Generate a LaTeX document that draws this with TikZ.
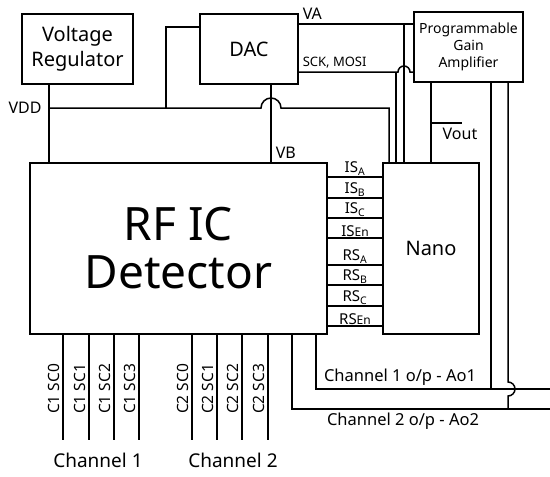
\documentclass[tikz,border=0pt]{standalone}
\usepackage{fontspec}
\setmainfont{Noto Sans}
\usetikzlibrary{calc}
\begin{document}
\begin{tikzpicture}[x=1pt,y=-1pt,line width=1.5pt,
  box/.style={draw,inner sep=0pt,align=center,line width=1.5pt},
  lbl/.style={inner sep=1pt,font=\fontsize{16}{18}\selectfont},
  sig/.style={anchor=south,inner sep=1pt,font=\fontsize{15}{16}\selectfont},
  pin/.style={rotate=90,inner sep=0pt,font=\fontsize{15.5}{17}\selectfont}]
\useasboundingbox (0,0) rectangle (550,477);
% boxes
\node[box,minimum width=111pt,minimum height=70pt,font=\fontsize{20}{25}\selectfont] (vr) at (77.5,49) {Voltage\\Regulator};
\node[box,minimum width=98pt,minimum height=70pt,font=\fontsize{20}{25}\selectfont] (dac) at (249,49) {DAC};
\node[box,minimum width=109pt,minimum height=70pt,font=\fontsize{14}{17}\selectfont] (pga) at (468.5,47) {Programmable\\Gain\\Amplifier};
\node[box,minimum width=297pt,minimum height=171pt,font=\fontsize{46}{48}\selectfont] (rf) at (178.5,248.5) {RF IC\\Detector};
\node[box,minimum width=96pt,minimum height=171pt,font=\fontsize{20}{24}\selectfont] (nano) at (431,248.5) {Nano};
% coordinates
\coordinate (vdd) at (49,108);
\coordinate (br) at (166,108);
\coordinate (dacp) at (200,27);
\coordinate (vb) at (271,108);
\coordinate (vddn) at (389,108);
\coordinate (va) at (298,24);
\coordinate (vav) at (404,24);
\coordinate (sck) at (298,72);
\coordinate (sckv) at (396,72);
\coordinate (vout) at (431,123);
\coordinate (voutt) at (462,123);
\coordinate (p1) at (491,82);
\coordinate (p2) at (508,82);
\coordinate (c1) at (316,389);
\coordinate (c2) at (292,409);
\coordinate (c1e) at (550,389);
\coordinate (c2e) at (550,409);
% VDD
\draw (vr.south -| vdd) -- (rf.north -| vdd);
\draw (vdd) -- ($(vb)+(-10,0)$) arc[start angle=180,end angle=360,radius=10] -- (vddn) -- (nano.north -| vddn);
\draw (br) |- (dacp);
\node[lbl] (vddl) at (25,108) {VDD};
% VB
\draw (dac.south -| vb) -- (rf.north -| vb);
\node[lbl,anchor=west] (vbl) at (274,153) {VB};
% VA
\draw (va) -- (pga.west |- va);
\draw (vav) -- (nano.north -| vav);
\node[lbl,anchor=south west,inner sep=0pt] (val) at (302,20) {VA};
% SCK MOSI
\draw (sck) -- ($(vav |- sck)+(-6,0)$) arc[start angle=180,end angle=360,radius=6] -- (pga.west |- sck);
\draw (sckv) -- (nano.north -| sckv);
\node[anchor=south west,inner sep=0pt,font=\fontsize{13}{15}\selectfont] (sckl) at (302,69) {SCK, MOSI};
% Vout
\draw (pga.south -| vout) -- (nano.north -| vout);
\draw (vout) -- (voutt);
\node[lbl] (voutl) at (460,134) {Vout};
% PGA outputs
\draw (p1) -- (p1 |- c1);
\draw (p2) -- ($(p2 |- c1)+(0,-7)$) arc[start angle=270,end angle=450,radius=7] -- (p2 |- c2);
% channel outputs
\draw (rf.south -| c1) -- (c1) -- (c1e);
\draw (rf.south -| c2) -- (c2) -- (c2e);
\node[lbl,font=\fontsize{16.5}{19}\selectfont] (o1) at (400,377) {Channel 1 o/p - Ao1};
\node[lbl,font=\fontsize{16.5}{19}\selectfont] (o2) at (403,421) {Channel 2 o/p - Ao2};
% signals between RF IC and Nano
\foreach \y/\t [count=\i] in {177/IS\textsubscript{A},198/IS\textsubscript{B},218/IS\textsubscript{C},238/IS{\fontsize{12}{13}\selectfont En},265/RS\textsubscript{A},285/RS\textsubscript{B},306/RS\textsubscript{C},326/RS{\fontsize{12}{13}\selectfont En}}{
  \coordinate (s\i) at (0,\y);
  \draw (rf.east |- s\i) -- (nano.west |- s\i);
  \node[sig] (sl\i) at (355,\y) {\t};
}
% pins
\foreach \x/\t [count=\i] in {63/C1 SC0,89/C1 SC1,114/C1 SC2,139/C1 SC3,192/C2 SC0,217/C2 SC1,242/C2 SC2,268/C2 SC3}{
  \coordinate (q\i) at (\x,440);
  \draw (rf.south -| q\i) -- (q\i);
  \node[pin] (pl\i) at (\x-9,389) {\t};
}
\node[font=\fontsize{19}{22}\selectfont] (ch1) at (98,460) {Channel 1};
\node[font=\fontsize{19}{22}\selectfont] (ch2) at (233,460) {Channel 2};
\end{tikzpicture}
\end{document}
